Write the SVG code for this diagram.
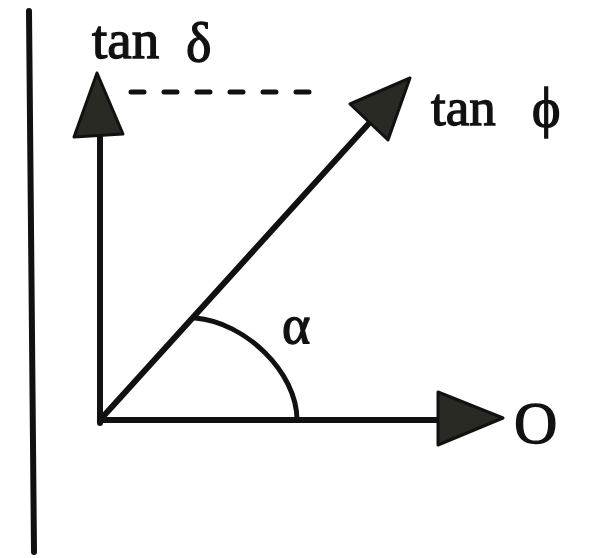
<svg xmlns="http://www.w3.org/2000/svg" width="595" height="558" viewBox="0 0 595 558">
<style>
.ln{stroke:#111;stroke-linecap:round;fill:none}
.head{fill:#2a2a24;stroke:#111;stroke-width:3;stroke-linejoin:round}
.lbl{font-family:"Liberation Serif","DejaVu Serif",serif;fill:#111;stroke:#111;stroke-width:1.3}
</style>
<rect width="595" height="558" fill="#fff"/>
<g id="connectors">
<line class="ln" x1="29" y1="11" x2="34" y2="552" stroke-width="6"/>
<line class="ln" x1="100" y1="423" x2="100" y2="130" stroke-width="6"/>
<polygon class="head" points="97,73 74,137 123,134"/>
<line class="ln" x1="100" y1="420" x2="440" y2="420" stroke-width="6"/>
<polygon class="head" points="503,418 438,392 438,445"/>
<line class="ln" x1="100" y1="420" x2="372" y2="120" stroke-width="6"/>
<polygon class="head" points="410,78 350,104 388,140"/>
<line class="ln" x1="131" y1="92" x2="318" y2="92" stroke-width="5" stroke-dasharray="13 20" stroke-linecap="butt"/>
<path class="ln" d="M195,318 C245,322 297,372 297,420" stroke-width="5"/>
</g>
<g id="label-tan-delta">
<text class="lbl" x="92" y="58" font-size="55">tan</text>
<text class="lbl" x="186" y="61" font-size="54">δ</text>
</g>
<g id="label-tan-phi">
<text class="lbl" x="431" y="125" font-size="53">tan</text>
<text class="lbl" x="532" y="126" font-size="54">ϕ</text>
</g>
<g id="label-alpha">
<text class="lbl" x="282" y="343" font-size="54">α</text>
</g>
<g id="label-O">
<text class="lbl" x="514" y="443" font-size="60">O</text>
</g>
</svg>
